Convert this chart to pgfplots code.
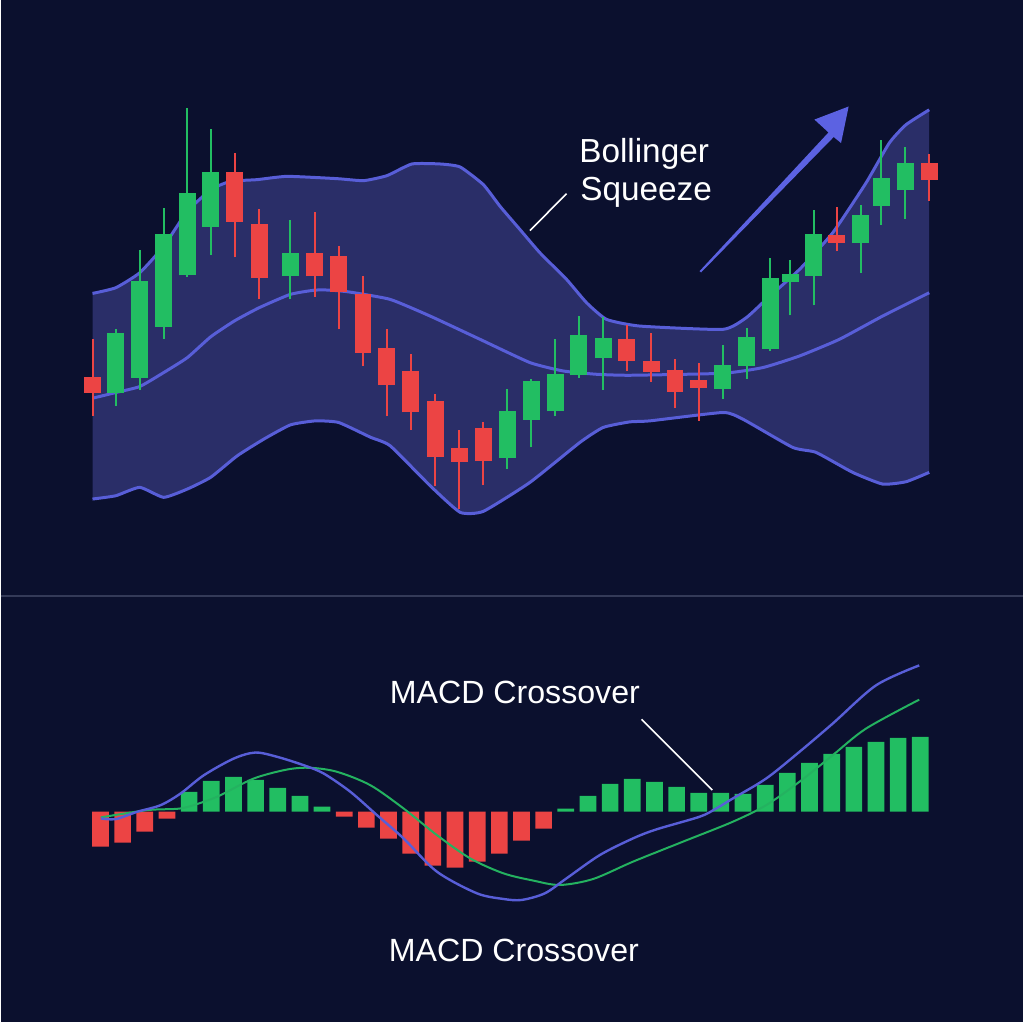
\documentclass[border=0pt]{standalone}
\usepackage{pgfplots}
\usepackage{pgfplotstable}
\pgfplotsset{compat=1.18}
\usepgfplotslibrary{fillbetween}
\usepackage{fontspec}
\setmainfont{Liberation Sans}
\definecolor{bg}{RGB}{11,16,46}
\definecolor{bandfill}{RGB}{42,46,104}
\definecolor{bandline}{RGB}{88,94,216}
\definecolor{arrowc}{RGB}{92,98,226}
\definecolor{cgreen}{RGB}{34,190,98}
\definecolor{cred}{RGB}{236,68,68}
\definecolor{sigc}{RGB}{36,178,96}
\definecolor{sepc}{RGB}{52,58,88}

\pgfplotstableread{
x lo hi bl bh
91.7 60.73 68.40 63.00 64.67
234.3 76.60 87.07 80.20 85.20
258.7 72.40 81.47 74.50 79.93
314.3 72.67 81.13 74.70 77.03
338.3 69.40 77.80 73.13 76.80
362.7 65.73 74.73 67.07 72.90
386.7 60.67 69.40 63.80 67.50
410.7 59.33 66.90 61.07 65.27
435.3 53.67 62.97 56.63 62.20
459.3 51.40 59.27 56.13 57.53
483.3 53.80 60.07 56.20 59.53
627.0 65.23 69.80 66.23 68.47
651.3 64.13 69.07 65.13 66.23
675.3 61.57 66.40 63.13 65.33
699.3 60.23 66.00 63.57 64.30
837.3 77.23 81.63 78.07 78.90
930.0 82.30 86.97 84.37 86.03
}\redcandles

\pgfplotstableread{
x lo hi bl bh
115.0 61.73 69.40 63.00 69.07
139.0 63.30 77.40 64.57 74.20
163.0 68.47 81.57 69.67 78.97
186.7 74.67 91.57 74.80 83.03
210.3 76.87 89.47 79.67 85.20
289.7 72.40 80.33 74.73 77.07
507.3 55.40 63.40 56.50 61.17
531.3 57.57 64.47 60.33 64.20
555.3 60.67 68.40 61.17 64.90
579.0 64.57 70.73 64.80 68.80
603.3 63.33 70.67 66.50 68.57
723.3 62.47 67.80 63.47 65.87
747.0 64.47 69.57 65.73 68.67
770.7 67.23 76.57 67.47 74.57
791.0 70.80 76.30 74.13 74.90
814.3 71.80 81.40 74.73 79.00
861.3 75.07 81.90 78.07 80.90
882.0 79.90 88.40 81.80 84.57
906.0 80.47 87.67 83.37 86.07
}\greencandles

\pgfplotstableread{
x y
91.7 73.00
115.0 73.57
139.0 75.07
163.0 77.73
186.7 81.23
210.3 83.40
226.7 84.13
243.3 84.33
256.7 84.40
286.7 84.73
336.7 84.50
363.3 84.30
386.7 84.80
411.7 85.97
440.0 85.97
460.0 85.67
483.3 83.90
500.0 81.73
520.0 79.40
540.0 77.07
566.7 74.40
586.7 72.07
606.7 70.40
640.0 69.73
723.3 69.40
746.7 70.57
766.7 72.40
800.0 75.40
833.3 79.07
866.7 84.07
890.0 88.07
906.7 89.90
930.0 91.40
}\upperband

\pgfplotstableread{
x y
91.7 62.50
115.0 63.07
139.0 63.67
163.0 65.07
186.7 66.57
210.3 68.67
234.3 70.27
258.7 71.57
289.7 72.90
314.3 73.33
330.0 73.33
350.0 73.13
390.0 72.40
430.0 70.73
480.0 68.40
530.0 66.07
563.3 65.23
596.7 64.90
630.0 64.80
723.3 65.00
763.3 65.57
800.0 66.73
840.0 68.40
883.3 70.73
930.0 73.07
}\midband

\pgfplotstableread{
x y
91.7 52.40
115.0 52.73
139.0 53.57
163.0 52.57
186.7 53.40
210.0 54.57
236.7 56.73
263.3 58.40
290.0 59.83
315.0 60.23
338.3 60.07
370.0 58.60
390.0 57.73
430.0 53.73
460.0 51.07
483.3 51.17
530.0 54.07
580.0 58.07
603.3 59.57
630.0 60.13
650.0 60.23
723.3 61.07
743.3 60.40
793.3 57.57
816.7 57.07
853.3 55.07
883.3 53.90
906.7 54.13
930.0 55.07
}\lowerband

\pgfplotsset{
  candle/.style 2 args={only marks, mark=*, mark size=0.1pt,
    mark options={draw opacity=0, fill opacity=0},
    error bars/.cd, y dir=plus, y explicit, error mark=none,
    error bar style={line width=#2, draw=#1, draw opacity=1}},
}

\begin{document}
\begin{tikzpicture}
\fill[bg] (0,0) rectangle (512pt,512pt);
\draw[sepc, line width=1pt] (0,213.25pt) -- (512pt,213.25pt);

% ---------- price panel ----------
\begin{axis}[at={(0,0)}, anchor=south west, width=512pt, height=512pt,
  scale only axis, hide axis, clip=false,
  xmin=0, xmax=1024, ymin=0, ymax=102.4,
  fill between/on layer=main]
\addplot[name path=up, draw=none, smooth, tension=0.3] table[x=x,y=y] {\upperband};
\addplot[name path=lo, draw=none, smooth, tension=0.3] table[x=x,y=y] {\lowerband};
\addplot[fill=bandfill, draw=none] fill between[of=up and lo];
\addplot[bandline, line width=1.5pt, smooth, tension=0.3] table[x=x,y=y] {\upperband};
\addplot[bandline, line width=1.5pt, smooth, tension=0.3] table[x=x,y=y] {\midband};
\addplot[bandline, line width=1.5pt, smooth, tension=0.3] table[x=x,y=y] {\lowerband};

% wicks
\addplot[candle={cred}{1pt}]
  table[x=x, y=lo, y error plus expr=\thisrow{hi}-\thisrow{lo}] {\redcandles};
\addplot[candle={cgreen}{1pt}]
  table[x=x, y=lo, y error plus expr=\thisrow{hi}-\thisrow{lo}] {\greencandles};
% bodies
\addplot[candle={cred}{8.5pt}]
  table[x=x, y=bl, y error plus expr=\thisrow{bh}-\thisrow{bl}] {\redcandles};
\addplot[candle={cgreen}{8.5pt}]
  table[x=x, y=bl, y error plus expr=\thisrow{bh}-\thisrow{bl}] {\greencandles};

% arrow
\fill[arrowc] (axis cs:701.5,75.11) -- (axis cs:834.3,88.67) -- (axis cs:841.7,88.07)
  -- (axis cs:849.3,91.73) -- (axis cs:815,90.42) -- (axis cs:829.1,89.13)
  -- (axis cs:699.9,75.23) -- cycle;

% annotation
\draw[white, line width=0.8pt] (axis cs:530,79.3) -- (axis cs:566.7,83.0);
\node[anchor=base west, inner sep=0pt, text=white, font=\fontsize{16.7}{19}\selectfont]
  at (axis cs:579,86.13) {Bollinger};
\node[anchor=base west, inner sep=0pt, text=white, font=\fontsize{16.7}{19}\selectfont]
  at (axis cs:580,82.3) {Squeeze};
\end{axis}

% ---------- MACD panel ----------
\begin{axis}[at={(0,0)}, anchor=south west, width=512pt, height=512pt,
  scale only axis, hide axis, clip=false,
  xmin=0, xmax=1024, ymin=-2.107, ymax=8.133]
\addplot[ybar, bar width=16.7, bar shift=0pt, fill=cred, draw=none] coordinates {
(99.7,-0.35) (121.9,-0.31) (144.1,-0.20) (166.3,-0.07)
(343.9,-0.05) (366.1,-0.16) (388.3,-0.27) (410.5,-0.42) (432.7,-0.54)
(454.9,-0.56) (477.1,-0.50) (499.3,-0.42) (521.5,-0.29) (543.7,-0.17)
};
\addplot[ybar, bar width=16.7, bar shift=0pt, fill=cgreen, draw=none] coordinates {
(188.5,0.20) (210.7,0.31) (232.9,0.35) (255.1,0.32) (277.3,0.24) (299.5,0.16) (321.7,0.05)
(565.9,0.03) (588.1,0.16) (610.3,0.28) (632.5,0.33) (654.7,0.30) (676.9,0.25)
(699.1,0.19) (721.3,0.19) (743.5,0.18) (765.7,0.27) (787.9,0.39) (810.1,0.49)
(832.3,0.58) (854.5,0.65) (876.7,0.70) (898.9,0.74) (921.1,0.75)
};
% signal line
\addplot[sigc, line width=1pt, smooth, tension=0.5] coordinates {
(100,-0.057) (146.7,0.016) (180,0.033) (203.3,0.10) (220,0.166) (253.3,0.333)
(286.7,0.423) (310,0.44) (336.7,0.40) (370,0.266) (403.3,0.033) (436.7,-0.234)
(470,-0.467) (503.3,-0.617) (533.3,-0.69) (560,-0.734) (593.3,-0.674) (633.3,-0.50)
(683.3,-0.30) (733.3,-0.10) (766.7,0.066) (800,0.30) (833.3,0.566) (866.7,0.833) (920,1.123)
};
% MACD line
\addplot[bandline, line width=1.2pt, smooth, tension=0.5] coordinates {
(100,-0.067) (115,-0.074) (136.7,0) (160,0.066) (180,0.183) (203.3,0.366) (233.3,0.533)
(255,0.593) (276.7,0.55) (303.3,0.466) (323.3,0.383) (350,0.20) (376.7,-0.034)
(403.3,-0.267) (436.7,-0.60) (476.7,-0.817) (503.3,-0.874) (521.7,-0.884) (545,-0.817)
(566.7,-0.667) (600,-0.434) (633.3,-0.267) (656.7,-0.177) (700,-0.05) (716.7,0.033)
(733.3,0.133) (766.7,0.333) (800,0.60) (833.3,0.883) (876.7,1.266) (920,1.466)
};
\draw[white, line width=0.8pt] (axis cs:641.7,0.926) -- (axis cs:712.7,0.216);
\node[anchor=base west, inner sep=0pt, text=white, font=\fontsize{16.1}{19}\selectfont]
  at (axis cs:389.3,1.083) {MACD Crossover};
\node[anchor=base west, inner sep=0pt, text=white, font=\fontsize{16.1}{19}\selectfont]
  at (axis cs:388.3,-1.50) {MACD Crossover};
\end{axis}
\end{tikzpicture}
\end{document}
